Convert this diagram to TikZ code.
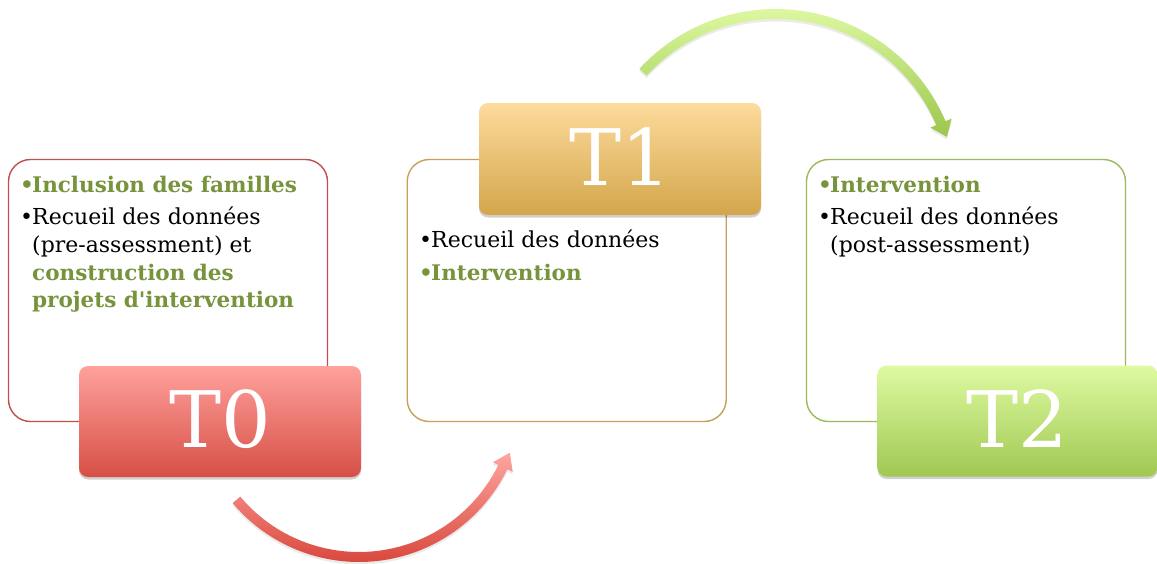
\documentclass[tikz,border=0pt]{standalone}
\usepackage{fontspec}
\setmainfont{DejaVu Serif}[Ligatures=TeXOff]
\usetikzlibrary{calc,shadows}
\definecolor{gtext}{HTML}{77933C}
\definecolor{redline}{HTML}{C0504D}
\definecolor{goldline}{HTML}{C5A15B}
\definecolor{greenline}{HTML}{9BBB59}
\definecolor{redtop}{HTML}{FFA19C}
\definecolor{redbot}{HTML}{D64F45}
\definecolor{goldtop}{HTML}{FDDB9C}
\definecolor{goldbot}{HTML}{D3A64B}
\definecolor{greentop}{HTML}{DEFAA2}
\definecolor{greenbot}{HTML}{A0C852}
\definecolor{redarrtop}{HTML}{FFA5A0}
\definecolor{redarrbot}{HTML}{D9483D}
\definecolor{grarrtop}{HTML}{DCF8A0}
\definecolor{grarrbot}{HTML}{9CC64C}
\newcommand\bul{\makebox[12pt][l]{•}}
\begin{document}
\begin{tikzpicture}[x=1pt,y=-1pt,
  obox/.style={draw=#1, line width=1.4pt, rounded corners=22pt, fill=white,
    inner sep=0pt, minimum width=319pt, minimum height=262pt},
  tbox/.style={rounded corners=9pt, inner sep=0pt, minimum width=282pt, minimum height=111pt,
    drop shadow={shadow xshift=0pt, shadow yshift=-2.5pt, opacity=0.18, fill=black}},
  ttext/.style={anchor=base, inner sep=0pt, text=white, font=\fontsize{78}{78}\selectfont},
  itm/.style={anchor=base west, inner sep=0pt, font=\fontsize{22}{28}\selectfont},
  gitm/.style={itm, text=gtext, font=\fontsize{21.5}{28}\selectfont\bfseries}
]
\useasboundingbox (0,0) rectangle (1157,563);

% ---- curved arrows ----
% red arrow shadow
\fill[black, opacity=0.08, yshift=-2.5pt]
  plot[domain=0:114, samples=50] ({359+165*cos(140-\x)},{397+165*sin(140-\x)})
  -- plot[domain=0:114, samples=50] ({359+155*cos(26+\x)},{397+155*sin(26+\x)}) -- cycle
  (512.7,471.9) -- (509.8,452.7) -- (492.9,462.3) -- cycle;
% red arrow
\shade[top color=redarrtop, bottom color=redarrbot]
  plot[domain=0:114, samples=50] ({359+165*cos(140-\x)},{397+165*sin(140-\x)})
  -- plot[domain=0:114, samples=50] ({359+155*cos(26+\x)},{397+155*sin(26+\x)}) -- cycle
  (512.7,471.9) -- (509.8,452.7) -- (492.9,462.3) -- cycle;

% green arrow shadow
\fill[black, opacity=0.08, yshift=-2.5pt]
  plot[domain=0:114.2, samples=50] ({775.5+185*cos(-137.4+\x)},{194+185*sin(-137.4+\x)})
  -- plot[domain=0:114.2, samples=50] ({775.5+175*cos(-23.2-\x)},{194+175*sin(-23.2-\x)}) -- cycle
  (951.6,118.6) -- (946.9,136.9) -- (930.4,127.6) -- cycle;
% green arrow
\shade[top color=grarrtop, bottom color=grarrbot]
  plot[domain=0:114.2, samples=50] ({775.5+185*cos(-137.4+\x)},{194+185*sin(-137.4+\x)})
  -- plot[domain=0:114.2, samples=50] ({775.5+175*cos(-23.2-\x)},{194+175*sin(-23.2-\x)}) -- cycle
  (951.6,118.6) -- (946.9,136.9) -- (930.4,127.6) -- cycle;

% ---- outline boxes ----
\node[obox=redline] (b0) at (168,290.5) {};
\node[obox=goldline] (b1) at (566.7,290.5) {};
\node[obox=greenline] (b2) at (966,290.5) {};

% ---- label boxes ----
\node[tbox, top color=redtop, bottom color=redbot] (t0) at (220,421.5) {};
\node[tbox, top color=goldtop, bottom color=goldbot, minimum height=112pt] (t1) at (620,159) {};
\node[tbox, top color=greentop, bottom color=greenbot, minimum width=280pt] (t2) at (1017.5,421) {};
\node[ttext] (t0l) at (220,447) {T0};
\node[ttext] (t1l) at (620,185) {T1};
\node[ttext] (t2l) at (1017.5,447) {T2};

% ---- box texts ----
\node[gitm] (a1) at (20,192) {\bul Inclusion des familles};
\node[itm] (a2) at (20,224) {\bul Recueil des données};
\node[itm] (a3) at (32,252) {(pre-assessment) et};
\node[gitm] (a4) at (32,280) {construction des};
\node[gitm] (a5) at (32,307) {projets d'intervention};

\node[itm] (c1) at (419,247) {\bul Recueil des données};
\node[gitm] (c2) at (419,280) {\bul Intervention};

\node[gitm] (d1) at (818,192) {\bul Intervention};
\node[itm] (d2) at (818,224) {\bul Recueil des données};
\node[itm] (d3) at (830,252) {(post-assessment)};
\end{tikzpicture}
\end{document}
